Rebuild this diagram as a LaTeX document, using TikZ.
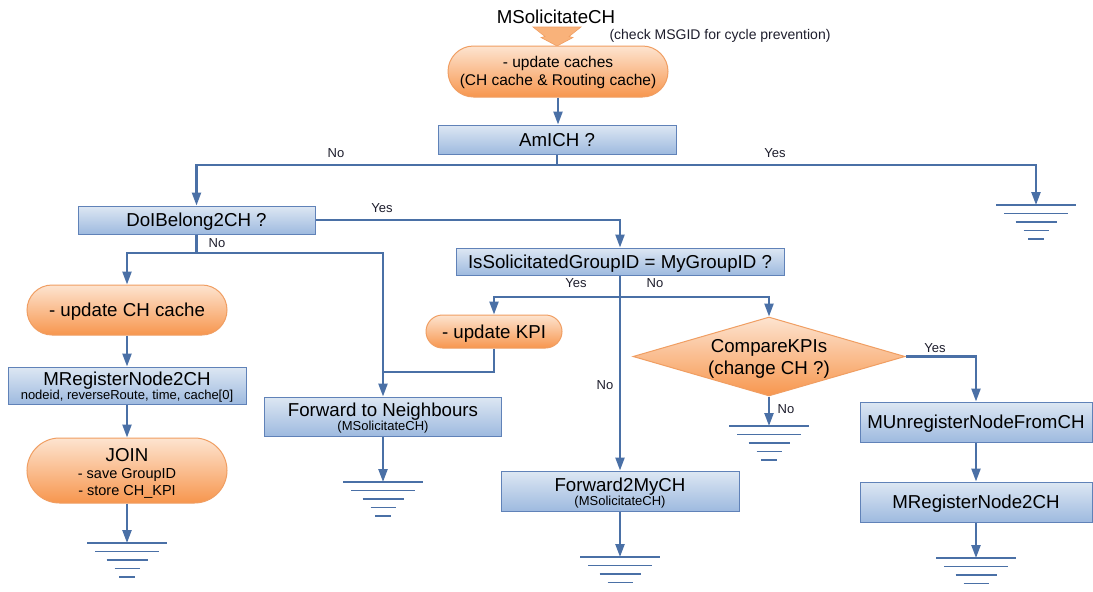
\documentclass[tikz,border=0pt]{standalone}
\usepackage{fontspec}
\setmainfont{Liberation Sans}
\usetikzlibrary{arrows.meta,shapes.misc,shapes.geometric}

\definecolor{flow}{RGB}{74,112,166}
\definecolor{boxtop}{RGB}{221,231,243}
\definecolor{boxbot}{RGB}{158,186,223}
\definecolor{boxedge}{RGB}{96,130,184}
\definecolor{ortop}{RGB}{253,228,208}
\definecolor{orbot}{RGB}{247,150,78}
\definecolor{oredge}{RGB}{240,158,98}
\definecolor{chevfill}{RGB}{249,178,122}
\definecolor{lbl}{RGB}{30,30,45}

\newcommand{\setfz}[2]{\fontsize{#1}{#2}\selectfont}

\tikzset{
  procbox/.style={rectangle, draw=boxedge, line width=1pt,
    top color=boxtop, bottom color=boxbot, inner sep=0pt, align=center,
    font=\setfz{18.7}{21}},
  termbox/.style={rounded rectangle, draw=oredge, line width=1pt,
    top color=ortop, bottom color=orbot, inner sep=0pt, align=center,
    font=\setfz{18.7}{21}},
  oneline/.style={text depth=0pt},
  flowline/.style={draw=flow, line width=2.3pt},
  flowarrow/.style={flowline, -{Triangle[length=13pt,width=9pt]}},
  lab/.style={font=\setfz{13}{15}, text=lbl, inner sep=0pt, text depth=0pt},
  groundline/.style={draw=flow, line width=1.4pt},
  earth/.pic={
    \draw[groundline] (-40,0) -- (40,0) (-32,8.5) -- (32,8.5)
      (-20.5,17) -- (20.5,17) (-12.5,25.5) -- (12.5,25.5) (-8,34) -- (8,34);
  },
  earthcut/.pic={
    \draw[groundline] (-40,0) -- (40,0) (-32,8.5) -- (32,8.5)
      (-20.5,17) -- (20.5,17) (-12.5,25.5) -- (12.5,25.5);
  }
}

\begin{document}
\begin{tikzpicture}[x=1pt, y=-1pt]
\useasboundingbox[fill=white] (0,0) rectangle (1093,592);

% incoming message
\node[font=\setfz{18.7}{21}, inner sep=0pt, text depth=0pt] (title) at (556,17) {MSolicitateCH};
\node[font=\setfz{14}{15}, inner sep=0pt, text=lbl] (note) at (720,36) {(check MSGID for cycle prevention)};
\filldraw[fill=chevfill, draw=oredge, line width=0.6pt]
  (533,27) -- (581,27) -- (569,36.5) -- (573,37.5) -- (557,46)
  -- (541,37.5) -- (545,36.5) -- cycle;

% shapes
\node[termbox, minimum width=220pt, minimum height=51pt, font=\setfz{15.5}{18}] (caches) at (558,71.5)
  {\rule{0pt}{12.3pt}- update caches\\(CH cache \& Routing cache)};
\node[procbox, oneline, minimum width=238pt, minimum height=29pt] (amich) at (557,139.5) {AmICH ?};
\node[procbox, oneline, minimum width=237pt, minimum height=28pt] (doi) at (196.5,220) {DoIBelong2CH ?};
\node[procbox, oneline, minimum width=328pt, minimum height=27pt] (isg) at (620,261.5) {IsSolicitatedGroupID = MyGroupID ?};
\node[termbox, oneline, minimum width=200pt, minimum height=50pt] (upch) at (127,310) {- update CH cache};
\node[procbox, minimum width=238pt, minimum height=37pt, font=\setfz{13}{14}] (mreg1) at (127,385.5)
  {\rule{0pt}{15.7pt}{\setfz{18.7}{14}MRegisterNode2CH}\\nodeid, reverseRoute, time, cache[0]};
\node[termbox, minimum width=200pt, minimum height=65pt, font=\setfz{14.5}{17}] (join) at (127,470.5)
  {\rule{0pt}{18pt}{\setfz{18.7}{17}JOIN}\\- save GroupID\\- store CH\_KPI};
\node[procbox, minimum width=237pt, minimum height=39pt, font=\setfz{13}{14.5}] (fwdn) at (383,416.5)
  {\rule{0pt}{16.3pt}{\setfz{18.7}{14.5}Forward to Neighbours}\\(MSolicitateCH)};
\node[termbox, oneline, minimum width=136pt, minimum height=33pt] (kpi) at (494,331.5) {- update KPI};
\node[diamond, draw=oredge, line width=1pt, top color=ortop, bottom color=orbot,
  minimum width=272pt, minimum height=79pt, inner sep=0pt] (cmp) at (769,356.5) {};
\node[inner sep=0pt, align=center, font=\setfz{18.7}{22}] (cmpT) at (cmp.center)
  {\rule{0pt}{16.9pt}CompareKPIs\\(change CH ?)};
\node[procbox, minimum width=238pt, minimum height=40pt, font=\setfz{13}{14.5}] (fwdch) at (620,491)
  {\rule{0pt}{17.3pt}{\setfz{18.7}{14.5}Forward2MyCH}\\(MSolicitateCH)};
\node[procbox, oneline, minimum width=232pt, minimum height=40pt] (unreg) at (976,422) {MUnregisterNodeFromCH};
\node[procbox, oneline, minimum width=232pt, minimum height=40pt] (mreg2) at (976,502) {MRegisterNode2CH};

% branch points and ground points
\coordinate (jA) at (557,165);
\coordinate (jB) at (196.5,253);
\coordinate (jC) at (620,297);
\coordinate (jK) at (383,372);
\coordinate (gR) at (1036,205);
\coordinate (gJ) at (127,543);
\coordinate (gN) at (383,482);
\coordinate (gC) at (769,426);
\coordinate (gF) at (620,557);
\coordinate (gM) at (976,558);

% connectors
\draw[flowarrow] (caches.south) -- (caches.south |- amich.north);
\draw[flowline] (amich.south) -- (jA);
\draw[flowarrow] (jA) -| (doi.north);
\draw[flowarrow] (jA) -| (gR);
\draw[flowarrow] (doi.east) -| (isg.north);
\draw[flowline] (doi.south) -- (jB);
\draw[flowarrow] (jB) -| (upch.north);
\draw[flowarrow] (jB) -| (fwdn.north);
\draw[flowarrow] (upch.south) -- (mreg1.north);
\draw[flowarrow] (mreg1.south) -- (join.north);
\draw[flowarrow] (join.south) -- (gJ);
\draw[flowline] (kpi.south) |- (jK);
\draw[flowarrow] (fwdn.south) -- (gN);
\draw[flowarrow] (isg.south) -- (fwdch.north);
\draw[flowarrow] (jC) -| (kpi.north);
\draw[flowarrow] (jC) -| (cmp.north);
\draw[flowarrow] (cmp.south) -- (gC);
\draw[flowarrow] (cmp.east) -| (unreg.north);
\draw[flowarrow] (unreg.south) -- (mreg2.north);
\draw[flowarrow] (mreg2.south) -- (gM);
\draw[flowarrow] (fwdch.south) -- (gF);

% grounds
\pic at (gR) {earth};
\pic at (gJ) {earth};
\pic at (gN) {earth};
\pic at (gC) {earth};
\pic at (gF) {earthcut};
\pic at (gM) {earthcut};

% branch labels
\node[lab] (lNo1) at (336,153) {No};
\node[lab] (lYes1) at (775,153) {Yes};
\node[lab] (lYes2) at (382,208) {Yes};
\node[lab] (lNo2) at (217,243) {No};
\node[lab] (lYes3) at (576,283) {Yes};
\node[lab] (lNo3) at (655,283) {No};
\node[lab] (lNo4) at (605,385) {No};
\node[lab] (lYes4) at (935,348) {Yes};
\node[lab] (lNo5) at (786,409) {No};
\end{tikzpicture}
\end{document}
